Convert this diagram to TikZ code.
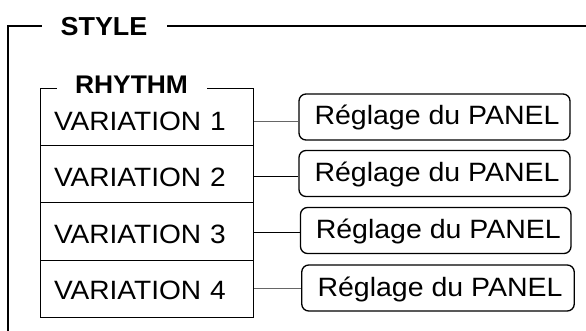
\documentclass[tikz,border=0pt]{standalone}
\usepackage{fontspec}
\setmainfont{Liberation Sans}
\newfontfamily\varfont{Liberation Sans}[FakeStretch=1.06]
\newfontfamily\panelfont{Liberation Sans}[FakeStretch=1.075]
\newfontfamily\labelfont{Liberation Sans}[FakeStretch=1.035]
\begin{document}
\begin{tikzpicture}[x=1pt,y=-1pt,
  rowbox/.style={draw=black, line width=1pt, inner xsep=14pt, inner ysep=0pt,
    text width=185.5pt, align=left, font=\varfont\fontsize{26.5}{30}\selectfont},
  panelbox/.style={draw=black, line width=1.35pt, rounded corners=7pt, inner sep=0pt,
    text height=31pt, text depth=15pt, font=\panelfont\fontsize{26.5}{30}\selectfont},
  grouplabel/.style={fill=white, inner ysep=2pt, anchor=base},
  link/.style={line width=1pt},
  frameline/.style={line width=2pt}]
\useasboundingbox (0,0) rectangle (586,331);
% outer STYLE frame
\coordinate (fr) at (586,25.7);
\coordinate (fc) at (8,25.7);
\coordinate (fb) at (8,331);
\draw[frameline] (fr) -- (fc) -- (fb);
% rows
\node[rowbox, text height=42pt, text depth=15pt] (v1) at (146.75,117.5) {VARIATION 1};
\node[rowbox, text height=41pt, text depth=16pt] (v2) at (146.75,174.5) {VARIATION 2};
\node[rowbox, text height=40pt, text depth=17pt] (v3) at (146.75,231.5) {VARIATION 3};
\node[rowbox, text height=39pt, text depth=18pt] (v4) at (146.75,288.5) {VARIATION 4};
% labels
\node[grouplabel, minimum width=125pt, font=\labelfont\bfseries\fontsize{26}{30}\selectfont] (style) at (104,35.7) {STYLE};
\node[grouplabel, minimum width=150pt, font=\labelfont\bfseries\fontsize{25.5}{30}\selectfont] (rhythm) at (131.5,93.5) {RHYTHM};
% panels
\node[panelbox, minimum width=271pt] (p1) at (434.5,117) {\hspace*{5pt}Réglage du PANEL};
\node[panelbox, minimum width=271pt] (p2) at (434.5,173.5) {\hspace*{5pt}Réglage du PANEL};
\node[panelbox, minimum width=270.5pt] (p3) at (435.75,230.5) {\hspace*{5pt}Réglage du PANEL};
\node[panelbox, minimum width=272.5pt] (p4) at (438,288) {\hspace*{4pt}Réglage du PANEL};
% connectors
\coordinate (c1) at ([yshift=-4.7pt]p1.west);
\coordinate (c2) at ([yshift=-3.5pt]p2.west);
\coordinate (c3) at ([yshift=-1.5pt]p3.west);
\coordinate (c4) at (p4.west);
\draw[link, draw=black!60] (v1.east |- c1) -- (c1);
\draw[link, draw=black] (v2.east |- c2) -- (c2);
\draw[link, draw=black] (v3.east |- c3) -- (c3);
\draw[link, draw=black!60] (v4.east |- c4) -- (c4);
\end{tikzpicture}
\end{document}
